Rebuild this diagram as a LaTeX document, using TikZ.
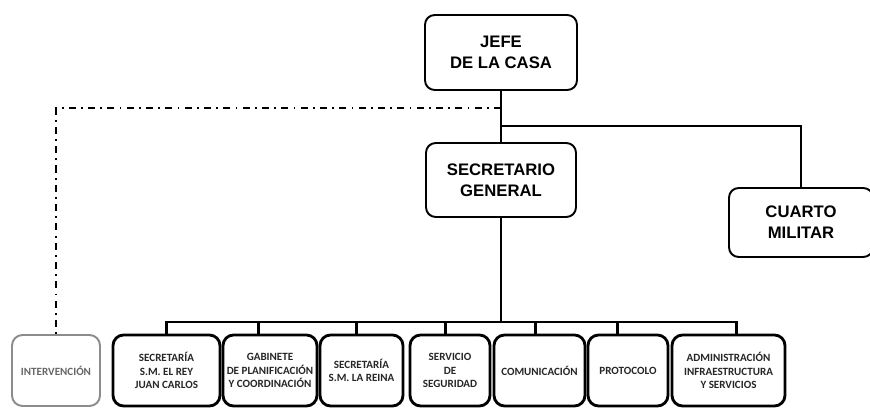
\documentclass[tikz,border=0pt]{standalone}
\usepackage{fontspec}
\setmainfont{Liberation Sans}
\newfontfamily\unitfont{Carlito}
\begin{document}
\begin{tikzpicture}[x = 0.02cm, y = -0.02cm,
    head/.style  = {draw, rounded corners = 5.5pt, line width = 1.1pt, align = center, inner sep = 0pt,
                    font = \bfseries\fontsize{9.5}{11.8}\selectfont},
    unit/.style  = {draw, rounded corners = 6pt, line width = 1.6pt, align = center, inner sep = 0pt,
                    minimum height = 1.42cm, text = black!85,
                    font = \unitfont\bfseries\fontsize{6.3}{7.5}\selectfont},
    link/.style  = {line width = 1.1pt},
    bus/.style   = {line width = 1.7pt},
    adviser/.style = {line width = 1.3pt, dash pattern = on 4pt off 3pt on 1pt off 3pt}]
  \useasboundingbox (0,0) rectangle (870,408);

  % upper level
  \node[head, minimum width = 3.04cm, minimum height = 1.5cm]  at (501, 52.5) (jefe)   {JEFE\\DE LA CASA};
  \node[head, minimum width = 3.0cm,  minimum height = 1.48cm] at (501,180)   (secgen) {SECRETARIO\\GENERAL};
  \node[head, minimum width = 2.88cm, minimum height = 1.38cm] at (801,222.5) (cuarto) {CUARTO\\MILITAR};

  % lower level
  \node[unit, minimum width = 1.76cm, draw = black!45, text = black!60, line width = 1.1pt] at ( 56,370.5) (interv) {INTERVENCIÓN};
  \node[unit, minimum width = 2.14cm] at (166.5,370.5) (rey)   {SECRETARÍA\\S.M. EL REY\\JUAN CARLOS};
  \node[unit, minimum width = 1.88cm] at (270,  370.5) (gab)   {GABINETE\\DE PLANIFICACIÓN\\Y COORDINACIÓN};
  \node[unit, minimum width = 1.66cm] at (361.5,370.5) (reina) {SECRETARÍA\\S.M. LA REINA};
  \node[unit, minimum width = 1.6cm]  at (450,  370.5) (seg)   {SERVICIO\\DE\\SEGURIDAD};
  \node[unit, minimum width = 1.82cm] at (539.5,370.5) (com)   {COMUNICACIÓN};
  \node[unit, minimum width = 1.6cm]  at (628,  370.5) (prot)  {PROTOCOLO};
  \node[unit, minimum width = 2.26cm] at (728.5,370.5) (adm)   {ADMINISTRACIÓN\\INFRAESTRUCTURA\\Y SERVICIOS};

  \coordinate (mil) at (501,126);
  \coordinate (adv) at (501,108);
  \coordinate (bus) at (501,322);

  \draw[link] (jefe) -- (secgen);
  \draw[link] (mil) -| (cuarto.north);
  \draw[adviser] (adv) -| (interv.north);

  \draw[bus] (secgen) -- (bus);
  \draw[bus] (rey.north) |- (bus) -| ([xshift = 4.5pt]adm.north);
  \foreach \n/\d in {gab/-6.8, reina/-2.8, seg/-2.3, com/-2.5, prot/-6.2}
    \draw[bus] ([xshift = \d pt]\n.north) -- ([xshift = \d pt]\n.north |- bus);
\end{tikzpicture}
\end{document}
